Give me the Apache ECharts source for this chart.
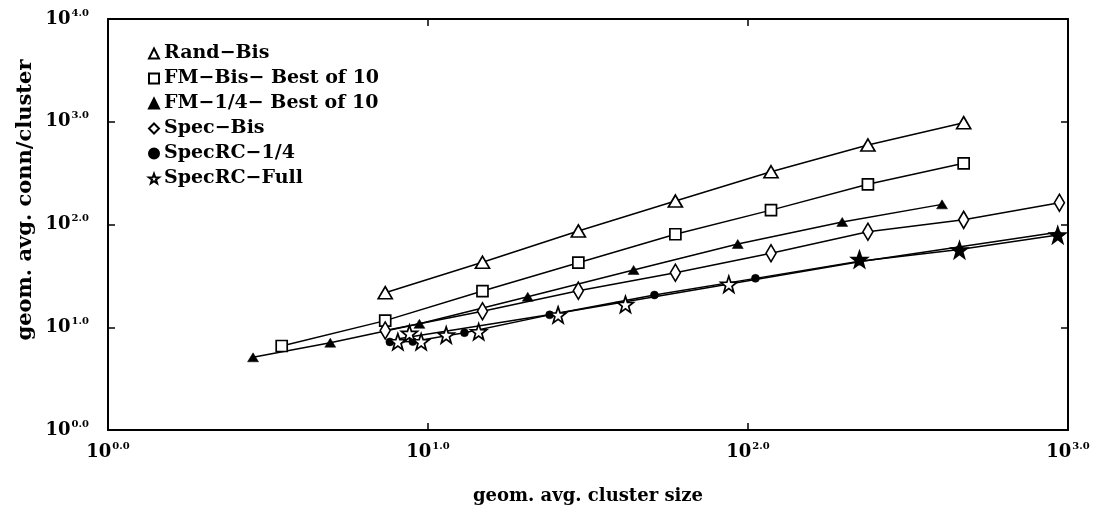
<!DOCTYPE html>
<html>
<head>
<meta charset="utf-8">
<script src="https://cdn.jsdelivr.net/npm/echarts@6/dist/echarts.min.js"></script>
<style>
  html, body { margin: 0; padding: 0; background: #fff; }
  #chart { width: 1098px; height: 520px; }
</style>
</head>
<body>
<div id="chart"></div>
<script>
// Cluster size vs. connections per cluster (geometric averages), log-log.
// Each point: [geom. avg. cluster size, geom. avg. conn/cluster]
const randBis = [[7.35, 21.7], [14.8, 42.9], [29.5, 86.5], [59.3, 169], [118, 326], [237, 594], [472, 979]];
const fmBis = [[3.49, 6.57], [7.35, 11.6], [14.8, 22.5], [29.5, 42.5], [59.3, 80.4], [118, 138], [237, 246], [472, 394]];
const fmQuarter = [[2.84, 5.1], [4.95, 7.07], [9.4, 10.8], [20.5, 19.8], [43.9, 36.1], [92.9, 64.6], [197, 106], [404, 157]];
const specBis = [[7.35, 9.3], [14.8, 14.3], [29.5, 22.7], [59.3, 33.9], [118, 52.5], [237, 85.1], [472, 111], [940, 163]];
const specRCQuarter = [[7.6, 7.2], [8.96, 7.25], [13.0, 8.85], [24.0, 13.2], [51.0, 20.6], [105.5, 29.9], [223, 44], [458, 57], [929, 79]];
const specRCFull = [[8.05, 7.24], [8.75, 8.73], [9.52, 7.24], [11.4, 8.4], [14.4, 9.05], [25.5, 13.2], [41.4, 16.7], [87.1, 26.2], [223, 45.8], [458, 56.5], [929, 79]];
// straight trend drawn through the SpecRC-Full points
const specRCFullTrend = [[8.0, 7.7], [25.5, 13.7], [223, 43.5], [940, 84.6]];

const seriesNames = ['Rand\u2212Bis', 'FM\u2212Bis\u2212 Best of 10', 'FM\u22121/4\u2212 Best of 10', 'Spec\u2212Bis', 'SpecRC\u22121/4', 'SpecRC\u2212Full'];
const xTickExps = [0, 1, 2, 3];
const yTickExps = [0, 1, 2, 3, 4];

const FONT = '"DejaVu Serif", "Liberation Serif", serif';
// stars that sit on top of SpecRC-1/4 dots render as solid
const SOLID_STAR_FROM = 8;

const hollow = { color: '#fff', borderColor: '#000', borderWidth: 1.7, opacity: 1 };
const solid = { color: '#000', borderColor: '#000', borderWidth: 0.5, opacity: 1 };

function expLabel(v) {
  const e = Math.round(Math.log10(v));
  return '{b|10}{s|' + e.toFixed(1) + '}';
}
const labelRich = {
  b: { fontFamily: FONT, fontWeight: 'bold', fontSize: 18, lineHeight: 22, color: '#000' },
  s: { fontFamily: FONT, fontWeight: 'bold', fontSize: 10, lineHeight: 12, color: '#000', verticalAlign: 'top', padding: [0, 0, 0, 1] }
};

function lineSeries(name, data) {
  return {
    name: name, type: 'line', data: data, symbol: 'none', silent: true,
    xAxisIndex: 0, yAxisIndex: 0,
    lineStyle: { color: '#000', width: 1.5 }, z: 2, animation: false
  };
}
function markSeries(name, data, symbol, size, style, z) {
  return {
    name: name, type: 'scatter', data: data, symbol: symbol, symbolSize: size,
    xAxisIndex: 0, yAxisIndex: 0,
    itemStyle: style, emphasis: { disabled: true }, z: z || 3, animation: false
  };
}

const chart = echarts.init(document.getElementById('chart'), null, { renderer: 'canvas' });

const xMin = Math.pow(10, xTickExps[0]), xMax = Math.pow(10, xTickExps[xTickExps.length - 1]);
const yMin = Math.pow(10, yTickExps[0]), yMax = Math.pow(10, yTickExps[yTickExps.length - 1]);

const axisLine = { show: true, onZero: false, lineStyle: { color: '#000', width: 2 } };
const tickIn = { show: true, inside: true, length: 7, lineStyle: { color: '#000', width: 1.5 } };

chart.setOption({
  animation: false,
  backgroundColor: '#fff',
  grid: { left: 108, right: 30, top: 19, bottom: 90, containLabel: false },
  legend: {
    data: seriesNames,
    orient: 'vertical',
    left: 143, top: 39,
    padding: 5,
    itemWidth: 10, itemHeight: 10,
    itemGap: 6, itemTextGap: 14,
    selectedMode: false,
    textStyle: { fontFamily: FONT, fontWeight: 'bold', fontSize: 19, lineHeight: 19, color: '#000' }
  },
  xAxis: [
    {
      type: 'log', logBase: 10, min: xMin, max: xMax, interval: 1,
      position: 'bottom',
      name: 'geom. avg. cluster size', nameLocation: 'middle', nameGap: 57,
      nameTextStyle: { fontFamily: FONT, fontWeight: 'bold', fontSize: 18, color: '#000' },
      axisLine: axisLine, axisTick: tickIn, minorTick: { show: false }, splitLine: { show: false },
      axisLabel: { margin: 11, formatter: expLabel, rich: labelRich }
    },
    {
      type: 'log', logBase: 10, min: xMin, max: xMax, interval: 1, position: 'top',
      axisLine: axisLine, axisTick: tickIn, splitLine: { show: false }, axisLabel: { show: false }
    }
  ],
  yAxis: [
    {
      type: 'log', logBase: 10, min: yMin, max: yMax, interval: 1,
      position: 'left',
      axisLine: axisLine, axisTick: tickIn, minorTick: { show: false }, splitLine: { show: false },
      axisLabel: { margin: 19, formatter: expLabel, rich: labelRich }
    },
    {
      type: 'log', logBase: 10, min: yMin, max: yMax, interval: 1, position: 'right',
      axisLine: axisLine, axisTick: tickIn, splitLine: { show: false }, axisLabel: { show: false }
    }
  ],
  graphic: [{
    type: 'text', x: 26, y: 200, rotation: Math.PI / 2,
    style: {
      text: 'geom. avg. conn/cluster', fill: '#000',
      font: 'bold 21px ' + FONT, textAlign: 'center', textVerticalAlign: 'middle'
    }
  }],
  series: [
    lineSeries('randBisLine', randBis),
    lineSeries('fmBisLine', fmBis),
    lineSeries('fmQuarterLine', fmQuarter),
    lineSeries('specBisLine', specBis),
    lineSeries('specRCQuarterLine', specRCQuarter),
    lineSeries('specRCFullLine', specRCFullTrend),
    markSeries(seriesNames[0], randBis, 'triangle', [14, 12], hollow),
    markSeries(seriesNames[1], fmBis, 'rect', [11, 11], hollow),
    markSeries(seriesNames[2], fmQuarter, 'triangle', [11, 9], solid),
    markSeries(seriesNames[3], specBis, 'diamond', [10, 17], hollow),
    markSeries(seriesNames[4], specRCQuarter, 'circle', 8, solid, 3),
    markSeries(seriesNames[5], specRCFull.map(function (p, i) {
      return i >= SOLID_STAR_FROM ? { value: p, itemStyle: { color: '#000' } } : p;
    }), 'path://M0,-10 L2.35,-3.24 L9.51,-3.09 L3.8,1.24 L5.88,8.09 L0,4 L-5.88,8.09 L-3.8,1.24 L-9.51,-3.09 L-2.35,-3.24 Z', 16, hollow, 4)
  ]
});
</script>
</body>
</html>
